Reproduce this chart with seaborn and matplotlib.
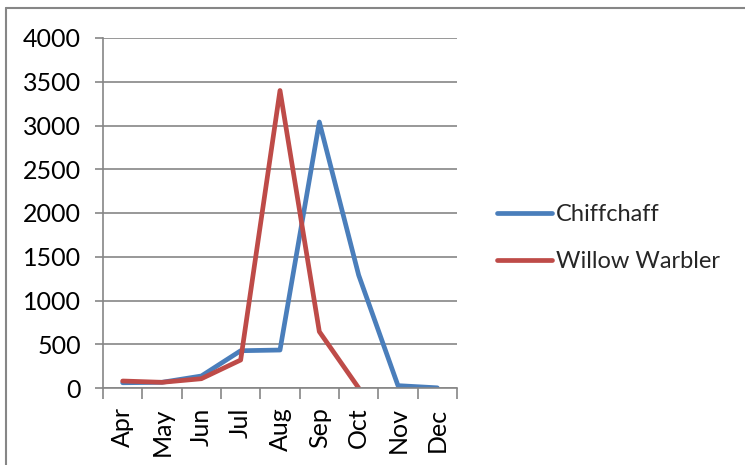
import numpy as np
import pandas as pd
import matplotlib
matplotlib.use("Agg")
import matplotlib.pyplot as plt
from matplotlib.lines import Line2D
from matplotlib.ticker import FixedLocator
import seaborn as sns

# ── Data ──────────────────────────────────────────────────────
months = ["Apr", "May", "Jun", "Jul", "Aug", "Sep", "Oct", "Nov", "Dec"]
chiffchaff = [60, 65, 137, 426, 434, 3040, 1290, 27, 2]
willow_warbler = [80, 65, 106, 320, 3400, 644, 0, np.nan, np.nan]

df = pd.DataFrame({
    "month": months * 2,
    "count": chiffchaff + willow_warbler,
    "species": ["Chiffchaff"] * len(months) + ["Willow Warbler"] * len(months),
})
df = df.dropna()

sns.set_theme(style="white")
plt.rcParams["font.family"] = ["Lato", "DejaVu Sans"]

fig = plt.figure(figsize=(7.45, 4.65), dpi=100)
ax = fig.add_axes([103 / 745, 1 - 388 / 465, 354 / 745, 350 / 465])

palette = {"Chiffchaff": "#4A7EBB", "Willow Warbler": "#BE4B48"}
sns.lineplot(data=df, x="month", y="count", hue="species", palette=palette,
             linewidth=3.4, ax=ax, sort=False, legend=False,
             solid_capstyle="round", solid_joinstyle="round")

grey = "#868686"
ax.set_xlim(-0.5, len(months) - 0.5)
ax.set_ylim(0, 4000)
ax.set_yticks(np.arange(0, 4001, 500))
ax.yaxis.grid(True, color=grey, linewidth=1.2)
ax.set_axisbelow(True)
for s in ["top", "right"]:
    ax.spines[s].set_visible(False)
for s in ["left", "bottom"]:
    ax.spines[s].set_color(grey)
    ax.spines[s].set_linewidth(1.2)

ax.set_xticks(range(len(months)))
ax.set_xticklabels(months, rotation=90)
ax.xaxis.set_minor_locator(FixedLocator(np.arange(-0.5, len(months), 1)))
ax.tick_params(axis="x", which="major", length=0, pad=14, labelsize=18, colors="black")
ax.tick_params(axis="x", which="minor", bottom=True, length=8, width=1.2, color=grey)
ax.tick_params(axis="y", left=True, length=6, width=1.2, color=grey, labelsize=18,
               pad=10, labelcolor="black")
ax.set_xlabel("")
ax.set_ylabel("")

handles = [Line2D([0], [0], color=palette[k], linewidth=3.4, solid_capstyle="round")
           for k in palette]
fig.legend(handles, list(palette), loc="center left",
           bbox_to_anchor=(476 / 745, 1 - 238 / 465), frameon=False,
           fontsize=17, handlelength=2.3, handletextpad=0.2, labelspacing=1.1)

# outer chart border (left and top edges visible)
fig.add_artist(Line2D([6 / 745, 6 / 745], [0, 1 - 8 / 465], color=grey,
                      linewidth=1.5, transform=fig.transFigure))
fig.add_artist(Line2D([6 / 745, 1], [1 - 8 / 465, 1 - 8 / 465], color=grey,
                      linewidth=1.5, transform=fig.transFigure))

fig.savefig("out.png", dpi=100)
